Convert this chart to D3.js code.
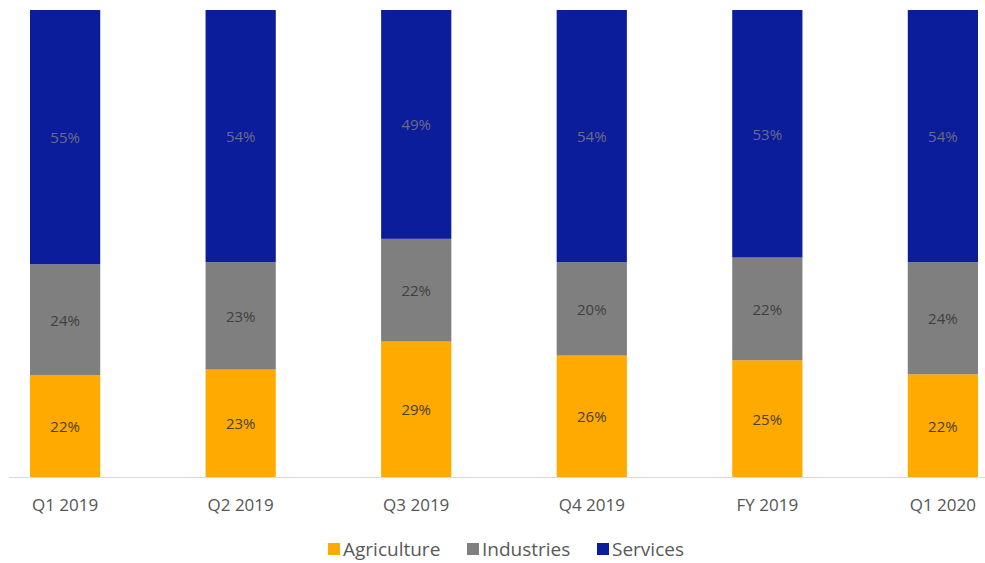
<!DOCTYPE html>
<html>
<head>
<meta charset="utf-8">
<script src="https://cdn.jsdelivr.net/npm/d3@7"></script>
<style>
  html, body { margin: 0; padding: 0; background: #fff; }
  svg { display: block; font-family: "Open Sans", "Noto Sans", sans-serif; }
</style>
</head>
<body>
<svg id="chart" width="985" height="563"></svg>
<script>
const categories = ["Q1 2019", "Q2 2019", "Q3 2019", "Q4 2019", "FY 2019", "Q1 2020"];
const seriesNames = ["Agriculture", "Industries", "Services"];
const agriculture = [22, 23, 29, 26, 25, 22];
const industries = [24, 23, 22, 20, 22, 24];
const services = [55, 54, 49, 54, 53, 54];
const colors = ["#FFAA00", "#7F7F7F", "#0C1D9C"];
const labelColors = ["#4a3f2a", "#3f3f3f", "#6b6b86"];

const rows = categories.map((c, i) => {
  const total = agriculture[i] + industries[i] + services[i];
  return {
    category: c,
    Agriculture: agriculture[i] / total,
    Industries: industries[i] / total,
    Services: services[i] / total,
    raw: { Agriculture: agriculture[i], Industries: industries[i], Services: services[i] }
  };
});

const svg = d3.select("#chart");
const x = d3.scaleBand().domain(categories).range([30, 978]).paddingInner(0.6).paddingOuter(0);
const y = d3.scaleLinear().domain([0, 1]).range([477, 10]);

const stacked = d3.stack().keys(seriesNames)(rows);

// axis line
svg.append("line")
  .attr("x1", 9).attr("x2", 985)
  .attr("y1", y(0) + 0.5).attr("y2", y(0) + 0.5)
  .attr("stroke", "#d9d9d9").attr("stroke-width", 1);

const groups = svg.selectAll("g.series").data(stacked).join("g")
  .attr("class", "series")
  .attr("fill", (d, i) => colors[i]);

groups.selectAll("rect").data(d => d).join("rect")
  .attr("x", d => x(d.data.category))
  .attr("width", x.bandwidth())
  .attr("y", d => y(d[1]))
  .attr("height", d => y(d[0]) - y(d[1]));

stacked.forEach((s, si) => {
  svg.append("g").selectAll("text").data(s).join("text")
    .attr("x", d => x(d.data.category) + x.bandwidth() / 2)
    .attr("y", d => (y(d[0]) + y(d[1])) / 2)
    .attr("text-anchor", "middle")
    .attr("dominant-baseline", "central")
    .attr("font-size", 15)
    .attr("fill", labelColors[si])
    .text(d => d.data.raw[s.key] + "%");
});

// category labels
const xAxis = d3.axisBottom(x).tickSize(0).tickPadding(0);
const gx = svg.append("g").attr("transform", `translate(0, ${y(0)})`).call(xAxis);
gx.select(".domain").remove();
gx.selectAll("text")
  .attr("dy", null)
  .attr("y", 27)
  .attr("dominant-baseline", "central")
  .attr("font-size", 17)
  .attr("font-family", "'Open Sans', sans-serif")
  .attr("fill", "#555");

// legend
const legendX = [328, 467, 597];
const lg = svg.append("g").selectAll("g").data(seriesNames).join("g")
  .attr("transform", (d, i) => `translate(${legendX[i]}, 549)`);
lg.append("rect").attr("x", 0).attr("y", -6).attr("width", 12).attr("height", 12)
  .attr("fill", (d, i) => colors[i]);
lg.append("text").attr("x", 15).attr("y", 0)
  .attr("dominant-baseline", "central")
  .attr("font-size", 19).attr("fill", "#595959")
  .text(d => d);
</script>
</body>
</html>
